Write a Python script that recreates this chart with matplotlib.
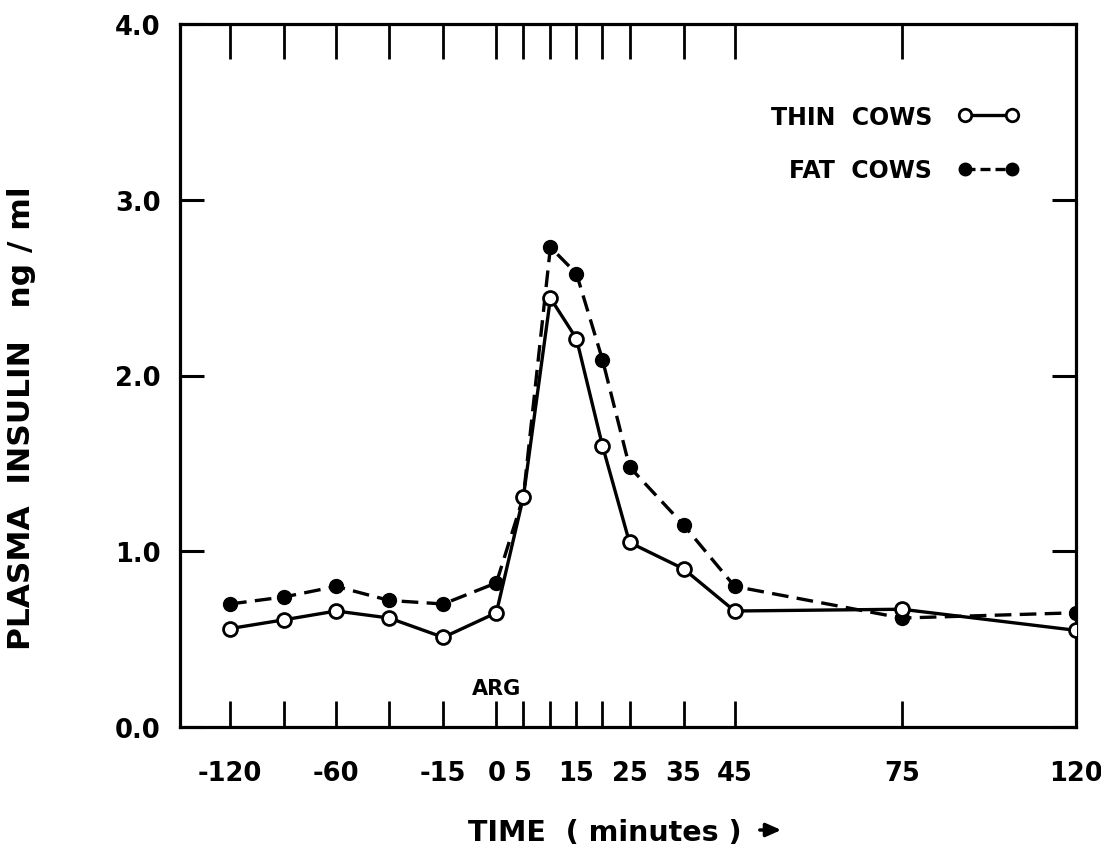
import numpy as np
import matplotlib
matplotlib.use("Agg")
import matplotlib.pyplot as plt
from matplotlib.lines import Line2D

# ---- data ----
times = [-120, -90, -60, -30, -15, 0, 5, 10, 15, 20, 25, 35, 45, 75, 120]
thin_cows = [0.56, 0.61, 0.66, 0.62, 0.51, 0.65, 1.31, 2.44, 2.21, 1.60, 1.05, 0.90, 0.66, 0.67, 0.55]
fat_cows = [0.70, 0.74, 0.80, 0.72, 0.70, 0.82, 1.31, 2.73, 2.58, 2.09, 1.48, 1.15, 0.80, 0.62, 0.65]
tick_times = [-120, -90, -60, -30, -15, 0, 5, 10, 15, 20, 25, 35, 45, 75, 120]
tick_labels = ["-120", "", "-60", "", "-15", "0", "5", "", "15", "", "25", "35", "45", "75", "120"]
y_ticks = [0, 1, 2, 3, 4]
y_tick_labels = ["0.0", "1.0", "2.0", "3.0", "4.0"]

# ---- nonlinear time axis (piecewise scale as drawn in the original) ----
scale_times = np.array([-148, -120, -90, -60, -30, -15, 0, 5, 10, 15, 20, 25, 35, 45, 75, 120], float)
scale_units = np.array([180, 230, 284, 336, 389, 443, 496, 523, 550, 576, 602, 629, 683, 734, 901, 1075], float)

def fwd(t):
    return np.interp(t, scale_times, scale_units)

def inv(u):
    return np.interp(u, scale_units, scale_times)

fig = plt.figure(figsize=(11.01, 8.53), dpi=100)
ax = fig.add_axes([180/1101, 1 - 728/853, (1076-180)/1101, (728-25)/853])
ax.set_xscale('function', functions=(fwd, inv))

lw = 2.4
ax.plot(times, fat_cows, color='black', lw=lw, dashes=(5, 2.5), marker='o', ms=10,
        mfc='black', mec='black', label='FAT COWS', zorder=3)
ax.plot(times, thin_cows, color='black', lw=lw, marker='o', ms=10,
        mfc='white', mec='black', mew=2.0, label='THIN COWS', zorder=4)

ax.set_xlim(-148, 120)
ax.set_ylim(0, 4)

font = dict(family='DejaVu Sans', weight='bold')
ax.set_xticks(tick_times)
ax.set_xticklabels(tick_labels, fontsize=18.5, **font)
ax.set_yticks(y_ticks)
ax.set_yticklabels(y_tick_labels, fontsize=18.5, **font)
ax.xaxis.set_minor_locator(matplotlib.ticker.NullLocator())

ax.tick_params(axis='x', direction='in', length=19, width=2.0, top=True, bottom=True, pad=24)
ax.tick_params(axis='y', direction='in', length=17, width=2.2, left=True, right=True, pad=14)
for tk in ax.xaxis.get_major_ticks():
    tk.tick2line.set_markersize(25)

for s in ax.spines.values():
    s.set_linewidth(2.3)

ax.text(0, 0.22, "ARG", ha='center', va='center', fontsize=15, **font)

h_thin = Line2D([], [], color='black', lw=lw, marker='o', ms=9, mfc='white', mec='black', mew=2.0)
h_fat = Line2D([], [], color='black', lw=lw, dashes=(3, 1.5), marker='o', ms=9, mfc='black', mec='black')
leg = ax.legend([h_thin, h_fat], ['THIN  COWS', 'FAT  COWS'], loc='center right',
                bbox_to_anchor=(0.95, 0.83), frameon=False, markerfirst=False, numpoints=2,
                handlelength=2.6, handletextpad=1.1, labelspacing=1.25, borderpad=0,
                prop=dict(family='DejaVu Sans', weight='bold', size=17))

fig.text(22/1101, 1 - 418/853, "PLASMA  INSULIN   ng / ml", rotation=90, ha='center', va='center',
         fontsize=22.5, **font)
fig.text(605/1101, 1 - 833/853, "TIME  ( minutes )", ha='center', va='center', fontsize=20.5, **font)
ax.annotate("", xy=(784, 853-831), xycoords='figure pixels', xytext=(757, 853-831),
            textcoords='figure pixels',
            arrowprops=dict(arrowstyle='-|>,head_length=0.9,head_width=0.4', color='black', lw=2.5))

fig.savefig("out.png", dpi=100)
